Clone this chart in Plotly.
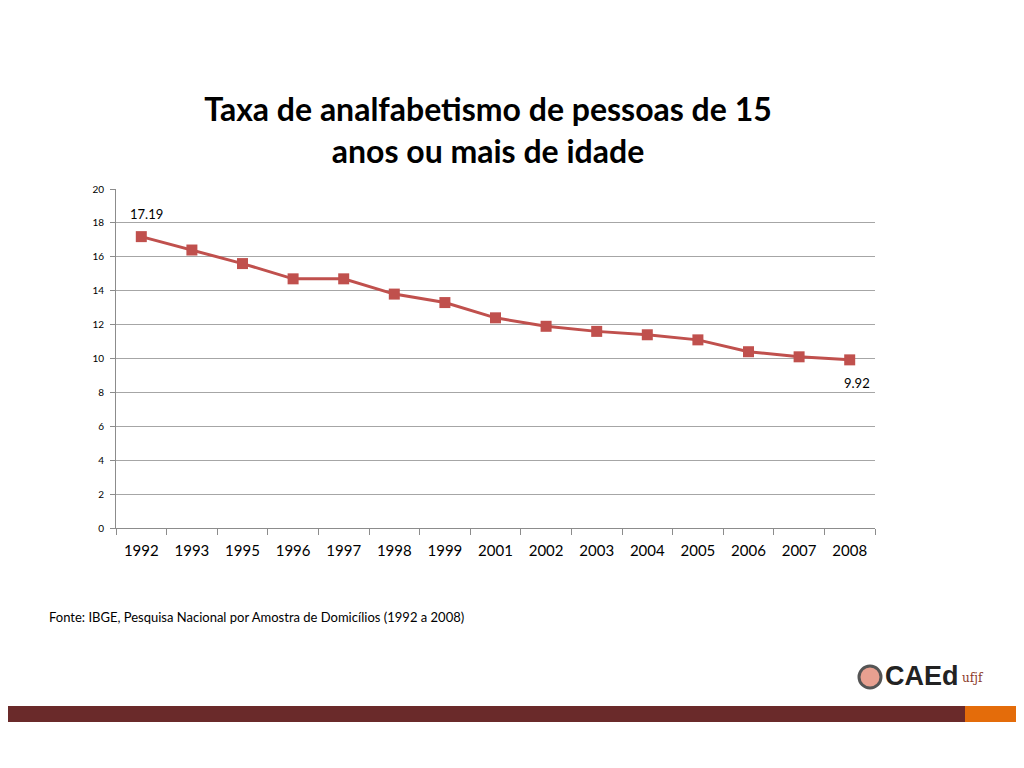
import plotly.graph_objects as go

years = ["1992", "1993", "1995", "1996", "1997", "1998", "1999", "2001",
         "2002", "2003", "2004", "2005", "2006", "2007", "2008"]
taxa = [17.19, 16.4, 15.6, 14.7, 14.7, 13.8, 13.3, 12.4,
        11.9, 11.6, 11.4, 11.1, 10.4, 10.1, 9.92]
y_ticks = [0, 2, 4, 6, 8, 10, 12, 14, 16, 18, 20]

# page has an 8px body margin, so the figure is drawn 8px in and 8px down
W, H = 1008, 752
L, T, PW, PH = 108, 181, 759, 339


def px(x):
    return (x - 8 - L) / PW


def py(y):
    return 1 - (y - 8 - T) / PH


fig = go.Figure()
fig.add_trace(go.Scatter(
    x=years, y=taxa, mode="lines+markers",
    line=dict(color="#C0504D", width=3),
    marker=dict(symbol="square", size=11, color="#C0504D"),
    showlegend=False, cliponaxis=False,
))

# first and last values labelled (x given as category index)
fig.add_annotation(x=0, y=taxa[0], text=f"{taxa[0]:.2f}", showarrow=False,
                   xshift=5, yshift=23, font=dict(size=13))
fig.add_annotation(x=len(years) - 1, y=taxa[-1], text=f"{taxa[-1]:.2f}",
                   showarrow=False, xshift=7, yshift=-23, font=dict(size=13))

fig.update_layout(
    width=W, height=H,
    margin=dict(l=L, r=W - L - PW, t=T, b=H - T - PH),
    paper_bgcolor="white", plot_bgcolor="white",
    font=dict(family="Lato, Open Sans, sans-serif", color="#000000"),
    title=dict(
        text="<b>Taxa de analfabetismo de pessoas de 15<br>anos ou mais de idade</b>",
        x=(488 - 8) / W, xanchor="center", y=1 - (121 - 8) / H, yanchor="middle",
        font=dict(size=32, family="Lato, Open Sans, sans-serif"),
    ),
)

fig.update_xaxes(
    type="category", range=[-0.5, len(years) - 0.5],
    tickson="boundaries", ticks="outside", ticklen=6, ticklabelstandoff=9,
    tickcolor="#8C8C8C", showline=True, linecolor="#8C8C8C", linewidth=1,
    showgrid=False, tickfont=dict(size=15), tickangle=0,
)
fig.update_yaxes(
    range=[0, 20], tickvals=y_ticks, ticks="outside", ticklen=5,
    ticklabelstandoff=4,
    tickcolor="#8C8C8C", showline=True, linecolor="#8C8C8C", linewidth=1,
    gridcolor="#A6A6A6", gridwidth=1, zeroline=False, tickfont=dict(size=10),
)

fig.add_annotation(
    text="Fonte: IBGE, Pesquisa Nacional por Amostra de Domicílios (1992 a 2008)",
    xref="paper", yref="paper", x=px(47), y=py(617),
    xanchor="left", yanchor="middle", showarrow=False,
    font=dict(size=13, family="Lato, Open Sans, sans-serif"),
)

# bottom bar
fig.add_shape(type="rect", xref="paper", yref="paper",
              x0=px(0), x1=px(965), y0=py(722), y1=py(706),
              fillcolor="#6A2A2A", line_width=0, layer="below")
fig.add_shape(type="rect", xref="paper", yref="paper",
              x0=px(965), x1=px(1024), y0=py(722), y1=py(706),
              fillcolor="#E46C0A", line_width=0, layer="below")

# logo
fig.add_shape(type="circle", xref="paper", yref="paper",
              x0=px(859), x1=px(881), y0=py(688), y1=py(666),
              fillcolor="#E8A090", line=dict(color="#555555", width=3))
fig.add_annotation(
    text="<b>CAEd</b>", xref="paper", yref="paper",
    x=px(883), y=py(676),
    xanchor="left", yanchor="middle", showarrow=False,
    font=dict(size=27, color="#222222", family="Liberation Sans, Arial"),
)
fig.add_annotation(
    text="ufjf", xref="paper", yref="paper",
    x=px(960), y=py(678),
    xanchor="left", yanchor="middle", showarrow=False,
    font=dict(size=12, color="#8B3A2A", family="DejaVu Serif"),
)

fig.write_html("out.html")
